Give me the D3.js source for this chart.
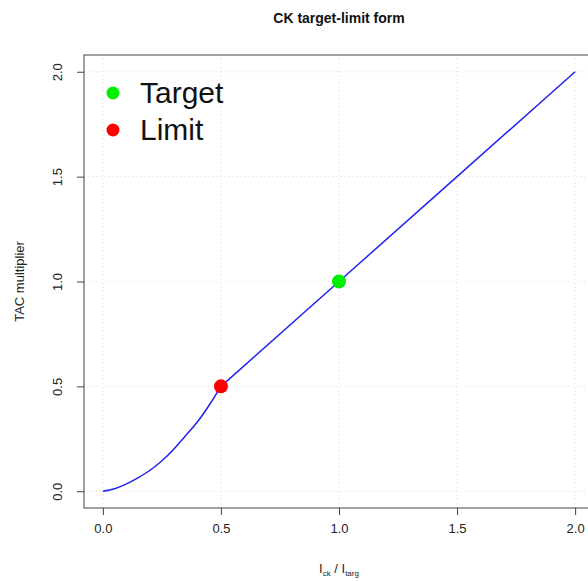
<!DOCTYPE html>
<html>
<head>
<meta charset="utf-8">
<script src="https://cdn.jsdelivr.net/npm/d3@7"></script>
<style>
  body { margin: 0; background: #fff; }
  text { font-family: "Liberation Sans", Arial, sans-serif; }
</style>
</head>
<body>
<div id="chart"></div>
<script>
// curve values
const ratioValues = [0, 0.05, 0.1, 0.15, 0.2, 0.25, 0.3, 0.35, 0.4, 0.45, 0.5, 1.0, 1.5, 2.0];
const multiplierValues = [0, 0.012, 0.035, 0.065, 0.10, 0.145, 0.20, 0.265, 0.33, 0.41, 0.5, 1.0, 1.5, 2.0];
const refNames = ["Target", "Limit"];
const refX = [1.0, 0.5];
const refY = [1.0, 0.5];
const refColors = ["#00ee00", "#ff0000"];
const xTicks = [0, 0.5, 1, 1.5, 2];
const yTicks = [0, 0.5, 1, 1.5, 2];

const W = 588, H = 581;
const margin = { top: 55, right: -6, bottom: 73, left: 84 };
const width = W - margin.left - margin.right, height = H - margin.top - margin.bottom;

const svg = d3.select("#chart").append("svg").attr("width", W).attr("height", H);
const g = svg.append("g").attr("transform", "translate(" + margin.left + "," + margin.top + ")");

const x = d3.scaleLinear().domain([-0.08, 2.08]).range([0, width]);
const y = d3.scaleLinear().domain([-0.08, 2.08]).range([height, 0]);

// dotted grid
g.selectAll(".gx").data(xTicks).enter().append("line")
  .attr("x1", d => x(d)).attr("x2", d => x(d)).attr("y1", 0).attr("y2", height)
  .attr("stroke", "#dcdcdc").attr("stroke-dasharray", "1,3");
g.selectAll(".gy").data(yTicks).enter().append("line")
  .attr("y1", d => y(d)).attr("y2", d => y(d)).attr("x1", 0).attr("x2", width)
  .attr("stroke", "#dcdcdc").attr("stroke-dasharray", "1,3");

// curve: smooth lower part up to the limit, straight part above it
const pts = ratioValues.map((v, i) => [v, multiplierValues[i]]);
const lowPart = pts.filter(d => d[0] <= 0.5);
const highPart = pts.filter(d => d[0] >= 0.5);
g.append("path").datum(lowPart)
  .attr("d", d3.line().x(d => x(d[0])).y(d => y(d[1])).curve(d3.curveMonotoneX))
  .attr("fill", "none").attr("stroke", "#2222ee").attr("stroke-width", 1.5);
g.append("path").datum(highPart)
  .attr("d", d3.line().x(d => x(d[0])).y(d => y(d[1])))
  .attr("fill", "none").attr("stroke", "#2222ee").attr("stroke-width", 1.5);

// reference points
g.selectAll(".ref").data(refNames).enter().append("circle")
  .attr("cx", (d, i) => x(refX[i])).attr("cy", (d, i) => y(refY[i]))
  .attr("r", 7).attr("fill", (d, i) => refColors[i]);

// box
g.append("rect").attr("x", 0).attr("y", 0).attr("width", width).attr("height", height)
  .attr("fill", "none").attr("stroke", "#444").attr("stroke-width", 1);

// axes
const xAxis = g.append("g").attr("transform", "translate(0," + height + ")")
  .call(d3.axisBottom(x).tickValues(xTicks).tickFormat(d3.format(".1f")).tickSizeOuter(0).tickSize(7).tickPadding(9));
const yAxis = g.append("g")
  .call(d3.axisLeft(y).tickValues(yTicks).tickFormat(d3.format(".1f")).tickSizeOuter(0).tickSize(7));
[xAxis, yAxis].forEach(a => {
  a.select(".domain").remove();
  a.selectAll("line").attr("stroke", "#444");
  a.selectAll("text").attr("font-size", 13).attr("fill", "#222").style("font-family", "Liberation Sans, Arial, sans-serif");
});
yAxis.selectAll("text")
  .attr("x", null).attr("dy", null)
  .attr("text-anchor", "middle")
  .attr("transform", "translate(-22,0) rotate(-90)")
  .attr("y", 0);

// legend
const legend = g.append("g").attr("transform", "translate(29,38)");
refNames.forEach((name, i) => {
  legend.append("circle").attr("cx", 0).attr("cy", i * 37).attr("r", 6.5).attr("fill", refColors[i]);
  legend.append("text").attr("x", 27).attr("y", i * 37 + 10).attr("font-size", 30).attr("fill", "#111").text(name);
});

// titles
svg.append("text").attr("x", 339).attr("y", 23).attr("text-anchor", "middle")
  .attr("font-size", 14).attr("font-weight", "bold").attr("fill", "#111").text("CK target-limit form");
svg.append("text").attr("transform", "translate(24," + (margin.top + height / 2) + ") rotate(-90)")
  .attr("text-anchor", "middle").attr("font-size", 13).attr("fill", "#222").text("TAC multiplier");
const xl = svg.append("text").attr("x", 339).attr("y", 573).attr("text-anchor", "middle")
  .attr("font-size", 13).attr("fill", "#222");
xl.append("tspan").text("I");
xl.append("tspan").attr("font-size", 8).attr("dy", 3).text("ck");
xl.append("tspan").attr("dy", -3).text(" / I");
xl.append("tspan").attr("font-size", 8).attr("dy", 3).text("targ");
</script>
</body>
</html>
